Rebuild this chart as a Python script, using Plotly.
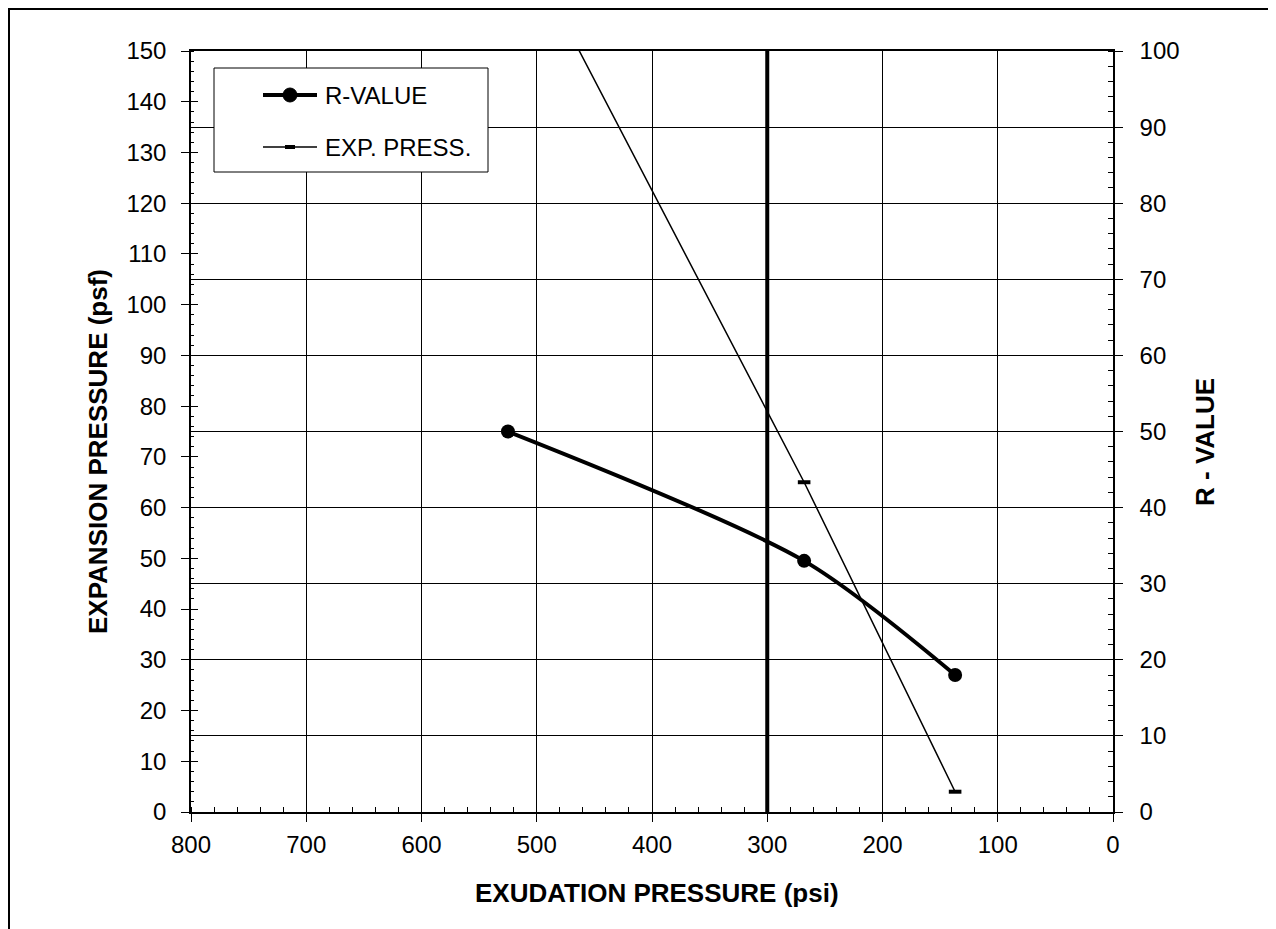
import plotly.graph_objects as go

# ---- data ----
exudation_r = [525, 268, 137]          # psi
r_value = [50, 33, 18]                 # R-value (right axis)
exudation_exp = [525, 268, 137]        # psi
exp_press = [177, 65, 4]               # psf (left axis)
ref_exudation = 300                    # vertical reference line, psi
ref_span = [0, 150]

series_names = ["R-VALUE", "EXP. PRESS."]
x_ticks = [800, 700, 600, 500, 400, 300, 200, 100, 0]

FONT = "Liberation Sans, Arial, sans-serif"

# plot-area geometry in page pixels (page has an 8px body margin)
PL, PR, PT, PB = 191, 1113, 51, 812


def px(xpix):
    return (xpix - PL) / (PR - PL)


def py(ypix):
    return (PB - ypix) / (PB - PT)


fig = go.Figure()

fig.add_trace(go.Scatter(
    x=exudation_r, y=r_value, yaxis="y2", name=series_names[0],
    mode="lines+markers", line=dict(color="black", width=4, shape="spline", smoothing=0.8),
    marker=dict(symbol="circle", size=14, color="black"), showlegend=False,
))
fig.add_trace(go.Scatter(
    x=exudation_exp, y=exp_press, yaxis="y", name=series_names[1],
    mode="lines+markers", line=dict(color="black", width=1.5),
    marker=dict(symbol="line-ew-open", size=9, line=dict(color="black", width=4)),
    showlegend=False,
))
fig.add_trace(go.Scatter(
    x=[ref_exudation, ref_exudation], y=ref_span, yaxis="y",
    mode="lines", line=dict(color="black", width=4), showlegend=False, hoverinfo="skip",
))

axis_common = dict(showline=True, linecolor="black", linewidth=1.5, zeroline=False,
                   tickfont=dict(family=FONT, size=24, color="black"), tickcolor="black")

# legend box drawn by hand (Excel style)
LX0, LX1, LY0, LY1 = 214, 488, 68, 172
SX0, SX1, SMID = 263, 317, 290
ROW1, ROW2 = 95, 147
legend_shapes = [
    dict(type="rect", xref="paper", yref="paper", x0=px(LX0), x1=px(LX1), y0=py(LY1), y1=py(LY0),
         line=dict(color="black", width=1), fillcolor="white", layer="above"),
    dict(type="line", xref="paper", yref="paper", x0=px(SX0), x1=px(SX1), y0=py(ROW1), y1=py(ROW1),
         line=dict(color="black", width=4), layer="above"),
    dict(type="circle", xref="paper", yref="paper", x0=px(SMID - 7), x1=px(SMID + 7),
         y0=py(ROW1 + 7), y1=py(ROW1 - 7), line=dict(color="black", width=1), fillcolor="black",
         layer="above"),
    dict(type="line", xref="paper", yref="paper", x0=px(SX0), x1=px(SX1), y0=py(ROW2), y1=py(ROW2),
         line=dict(color="black", width=1.5), layer="above"),
    dict(type="rect", xref="paper", yref="paper", x0=px(SMID - 5), x1=px(SMID + 5),
         y0=py(ROW2 + 2), y1=py(ROW2 - 2), line=dict(color="black", width=0), fillcolor="black",
         layer="above"),
]
legend_texts = [
    dict(text=series_names[0], xref="paper", yref="paper", x=px(SX1 + 6), y=py(ROW1),
         xanchor="left", yanchor="middle", showarrow=False,
         font=dict(family=FONT, size=24, color="black")),
    dict(text=series_names[1], xref="paper", yref="paper", x=px(SX1 + 6), y=py(ROW2),
         xanchor="left", yanchor="middle", showarrow=False,
         font=dict(family=FONT, size=24, color="black")),
]

fig.update_layout(
    width=1268, height=921,
    margin=dict(l=183, r=163, t=43, b=117),
    paper_bgcolor="white", plot_bgcolor="white",
    showlegend=False,
    xaxis=dict(range=[800, 0], tickvals=x_ticks, showgrid=True, gridcolor="black", gridwidth=1,
               mirror=True, ticks="outside", ticklen=8, ticklabelstandoff=2,
               minor=dict(ticks="inside", dtick=20, ticklen=5, tickcolor="black", showgrid=False),
               **axis_common),
    yaxis=dict(range=[0, 150], dtick=10, showgrid=False, ticks="outside", ticklen=8,
               ticklabelstandoff=10,
               minor=dict(ticks="inside", dtick=2, ticklen=3, tickcolor="black", showgrid=False),
               **axis_common),
    # inside half of the crossing major ticks on the left axis
    yaxis3=dict(range=[0, 150], dtick=10, overlaying="y", side="left", showgrid=False,
                showticklabels=False, ticks="inside", ticklen=7, tickcolor="black",
                showline=False, zeroline=False),
    yaxis2=dict(range=[0, 100], dtick=10, overlaying="y", side="right", showgrid=True,
                gridcolor="black", gridwidth=1, ticks="outside", ticklen=8, ticklabelstandoff=12,
                minor=dict(ticks="inside", dtick=2, ticklen=5, tickcolor="black", showgrid=False),
                **axis_common),
    annotations=[
        dict(text="<b>EXUDATION PRESSURE (psi)</b>", xref="paper", yref="paper", x=px(657), y=py(893),
             xanchor="center", yanchor="middle",
             showarrow=False, font=dict(family=FONT, size=26, color="black")),
        dict(text="<b>EXPANSION PRESSURE (psf)</b>", xref="paper", yref="paper", x=px(98), y=py(452),
             xanchor="center", yanchor="middle",
             textangle=-90, showarrow=False, font=dict(family=FONT, size=26, color="black")),
        dict(text="<b>R - VALUE</b>", xref="paper", yref="paper", x=px(1205), y=py(442),
             xanchor="center", yanchor="middle",
             textangle=-90, showarrow=False, font=dict(family=FONT, size=26, color="black")),
    ] + legend_texts,
    shapes=[
        dict(type="rect", xref="paper", yref="paper", x0=px(9), x1=px(1272), y0=py(1000), y1=py(9),
             line=dict(color="black", width=2), fillcolor="rgba(0,0,0,0)", layer="below"),
    ] + legend_shapes,
)

# an invisible trace so that the tick-only axis y3 is drawn
fig.add_trace(go.Scatter(x=[ref_exudation], y=[ref_span[0]], yaxis="y3", mode="markers",
                         marker=dict(opacity=0), showlegend=False, hoverinfo="skip"))

fig.write_html("out.html")
